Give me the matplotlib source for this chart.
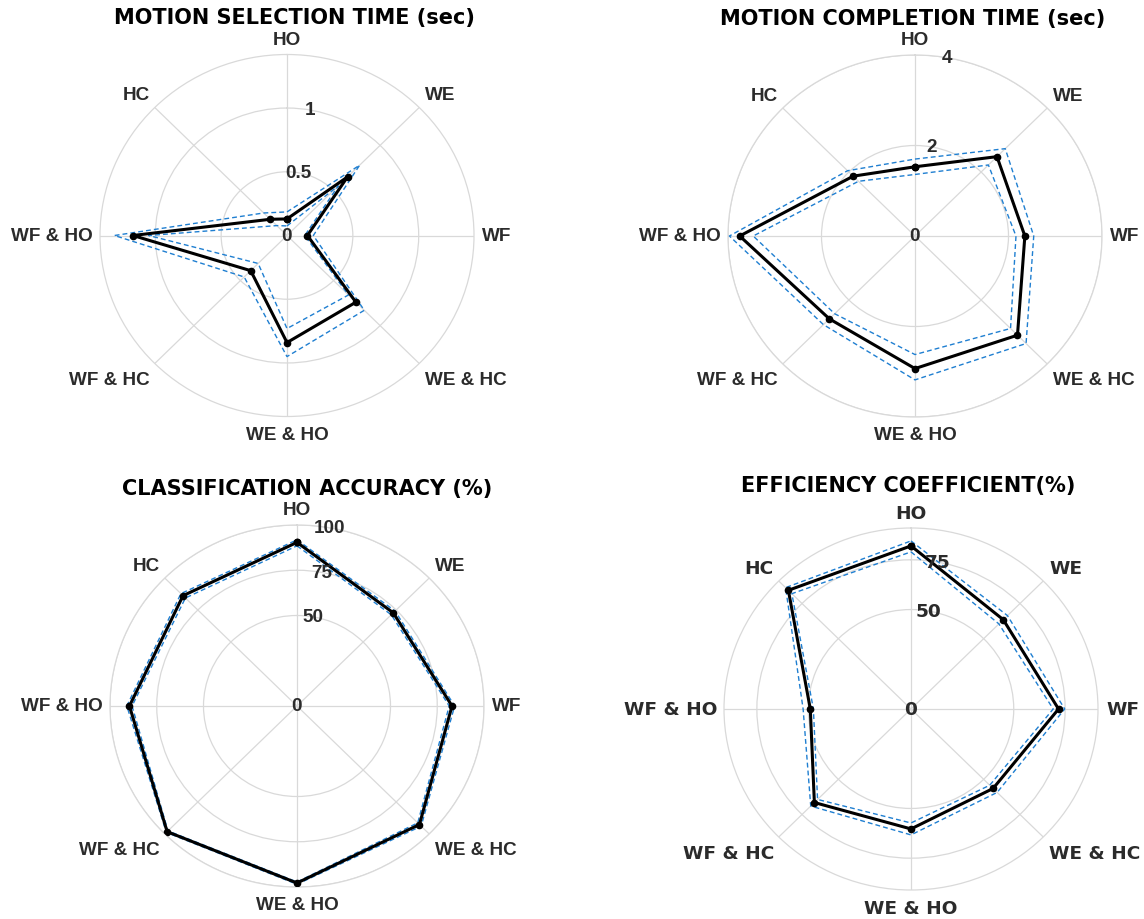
import matplotlib
matplotlib.use("Agg")
import matplotlib.pyplot as plt
import numpy as np

# --- Data ---
MOTIONS = ["HO", "WE", "WF", "WE & HC", "WE & HO", "WF & HC", "WF & HO", "HC"]

# motion selection time (sec)
selection_mean = [0.13, 0.65, 0.155, 0.74, 0.84, 0.39, 1.17, 0.18]
selection_low = [0.075, 0.55, 0.135, 0.66, 0.73, 0.31, 1.05, 0.11]
selection_high = [0.185, 0.78, 0.20, 0.83, 0.95, 0.46, 1.31, 0.25]
selection_ticks = [0, 0.5, 1]
selection_ticklabels = ["0", "0.5", "1"]

# motion completion time (sec)
completion_mean = [1.53, 2.48, 2.35, 3.10, 2.93, 2.59, 3.75, 1.87]
completion_low = [1.36, 2.22, 2.16, 2.89, 2.62, 2.43, 3.46, 1.71]
completion_high = [1.70, 2.73, 2.54, 3.36, 3.18, 2.77, 3.97, 2.04]
completion_ticks = [0, 2, 4]
completion_ticklabels = ["0", "2", "4"]

# classification accuracy (%)
accuracy_mean = [90.4, 72.8, 82.9, 92.6, 97.8, 98.2, 89.6, 86.2]
accuracy_low = [88.5, 71.3, 81.4, 91.3, 97.2, 97.6, 88.2, 84.4]
accuracy_high = [91.8, 74.2, 84.3, 93.9, 98.5, 98.8, 91.0, 87.8]
accuracy_ticks = [0, 50, 75, 100]
accuracy_ticklabels = ["0", "50", "75", "100"]

# efficiency coefficient (%)
efficiency_mean = [82.0, 63.5, 71.8, 56.5, 60.3, 66.5, 49.0, 84.4]
efficiency_low = [79.0, 60.5, 69.2, 54.2, 57.3, 64.3, 47.5, 82.0]
efficiency_high = [84.5, 66.4, 74.8, 59.3, 63.3, 69.0, 52.5, 86.3]
efficiency_ticks = [0, 50, 75]
efficiency_ticklabels = ["0", "50", "75"]

# --- Style ---
W, H = 1144, 920
GRID = "#d9d9d9"
BAND = "#1f7fd1"
LABEL = "#2b2b2b"
RX, RY = 187, 181  # half width / height of each radar in pixels

# label placement per spoke: (ha, dx, dy) in pixels from the outer ring
LABEL_POS = [
    ("center", 0, 15), ("left", 6, 13), ("left", 8, 0), ("left", 6, -16),
    ("center", 0, -18), ("right", -5, -16), ("right", -7, 0), ("right", -5, 13),
]


def radar(fig, center, title, title_xy, mean, low, high, rmax, ticks, ticklabels,
          family, lsize):
    cx, cy = center
    rect = [(cx - RX) / W, 1 - (cy + RY) / H, 2 * RX / W, 2 * RY / H]
    ax = fig.add_axes(rect, projection="polar")
    ax.set_theta_zero_location("N")
    ax.set_theta_direction(-1)
    ax.set_aspect("auto")

    angles = np.arange(len(MOTIONS)) * 2 * np.pi / len(MOTIONS)
    closed = np.append(angles, angles[0])

    for band in (low, high):
        ax.plot(closed, np.append(band, band[0]), color=BAND, lw=1.0,
                ls=(0, (3.5, 2.2)), zorder=3)
    ax.plot(closed, np.append(mean, mean[0]), color="black", lw=2.2,
            marker="o", ms=4.5, zorder=4)

    ax.set_ylim(0, rmax)
    ax.set_xticks(angles)
    ax.set_xticklabels([])
    ax.set_yticks(ticks[1:])
    ax.set_yticklabels([])
    ax.grid(True, color=GRID, lw=0.9)
    ax.spines["polar"].set_color(GRID)
    ax.spines["polar"].set_linewidth(0.9)
    ax.tick_params(length=0)

    for ang, name, (ha, dx, dy) in zip(angles, MOTIONS, LABEL_POS):
        ax.annotate(name, xy=(ang, rmax), xytext=(dx, dy), textcoords="offset pixels",
                    ha=ha, va="center", fontsize=lsize, fontweight="bold",
                    family=family, color=LABEL, annotation_clip=False)

    for t, lab in zip(ticks, ticklabels):
        ax.text(np.deg2rad(10), t, lab, ha="center", va="center", fontsize=lsize,
                fontweight="bold", family=family, color=LABEL, zorder=5)

    fig.text(title_xy[0] / W, 1 - title_xy[1] / H, title, ha="center", va="center",
             fontsize=15, fontweight="bold", family="DejaVu Sans", color="black")
    return ax


def main():
    fig = plt.figure(figsize=(W / 100, H / 100), dpi=100)
    fig.patch.set_facecolor("white")

    arial = ["Liberation Sans", "DejaVu Sans"]
    radar(fig, (287, 236.5), "MOTION SELECTION TIME (sec)", (294, 18),
          selection_mean, selection_low, selection_high, 1.42,
          selection_ticks, selection_ticklabels, arial, 13.6)
    radar(fig, (915, 237), "MOTION COMPLETION TIME (sec)", (913, 19),
          completion_mean, completion_low, completion_high, 4.0,
          completion_ticks, completion_ticklabels, arial, 13.6)
    radar(fig, (297, 707), "CLASSIFICATION ACCURACY (%)", (307, 489),
          accuracy_mean, accuracy_low, accuracy_high, 100,
          accuracy_ticks, accuracy_ticklabels, arial, 13.6)
    radar(fig, (911, 710), "EFFICIENCY COEFFICIENT(%)", (908, 486),
          efficiency_mean, efficiency_low, efficiency_high, 91,
          efficiency_ticks, efficiency_ticklabels, ["DejaVu Sans"], 13.3)

    fig.savefig("out.png", dpi=100, facecolor="white")


if __name__ == "__main__":
    main()
